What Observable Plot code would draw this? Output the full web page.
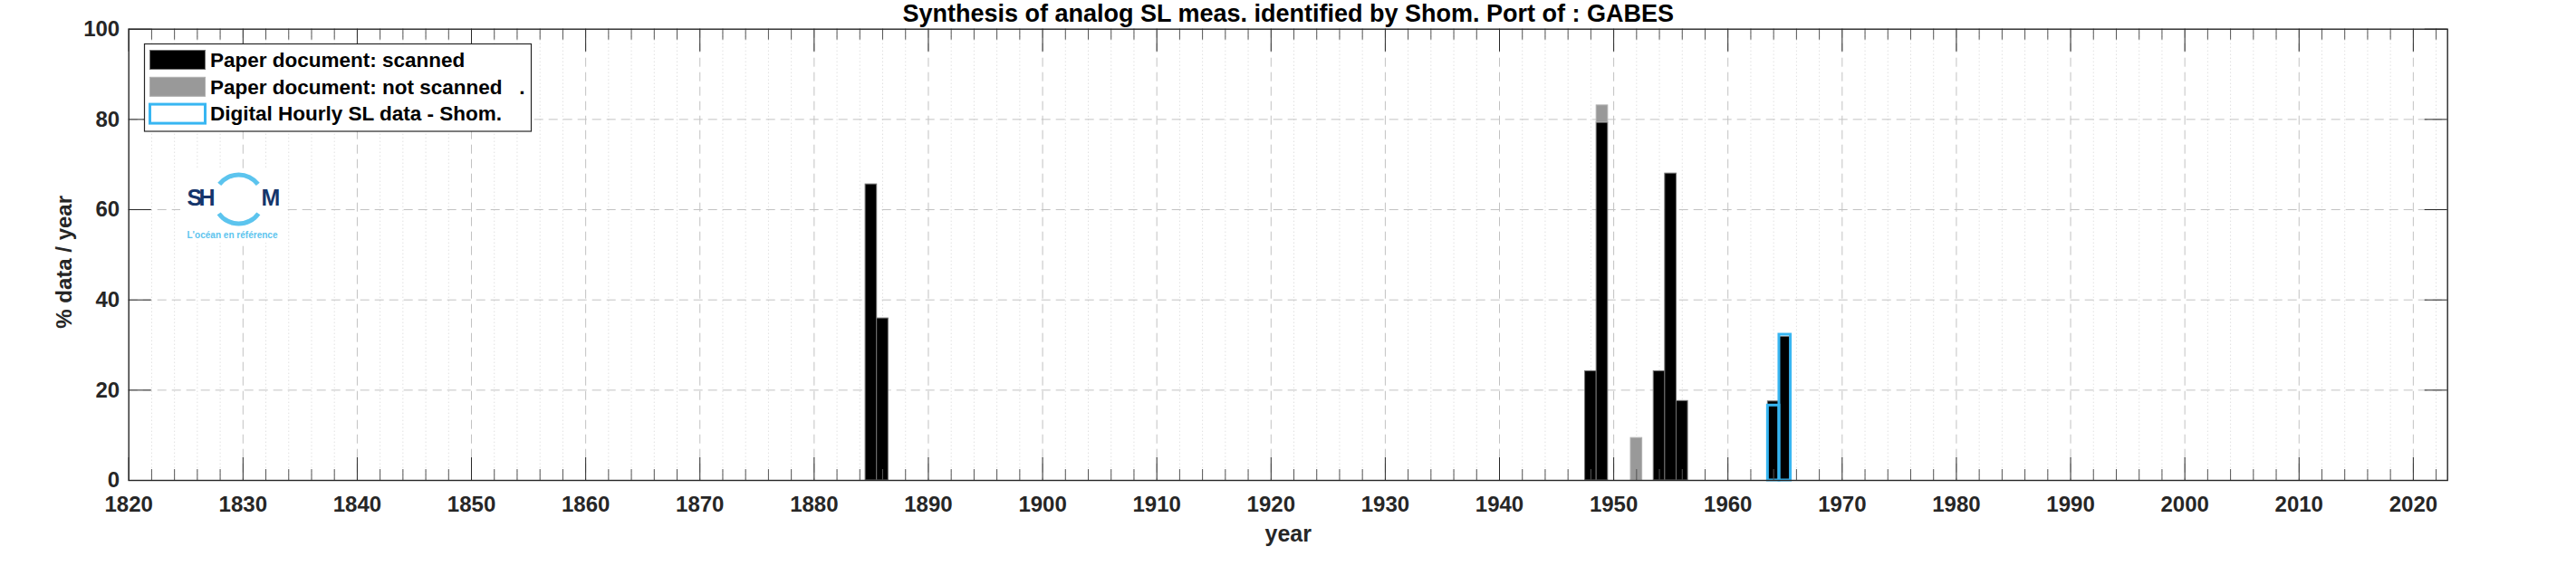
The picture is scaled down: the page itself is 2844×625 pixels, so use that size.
<!DOCTYPE html>
<html><head><meta charset="utf-8">
<script src="https://cdn.jsdelivr.net/npm/d3@7"></script>
<script src="https://cdn.jsdelivr.net/npm/@observablehq/plot@0.6"></script>
<style>
html,body{margin:0;padding:0;background:#fff;}
#chart svg{display:block}
</style></head><body><div id="chart"></div>
<script>
// ---- text ----
const title = "Synthesis of analog SL meas. identified by Shom. Port of : GABES";
const xLabel = "year";
const yLabel = "% data / year";
const legendLabels = ["Paper document: scanned", "Paper document: not scanned   .", "Digital Hourly SL data - Shom."];
const logoLetters = ["SH", "M"];
const logoTagline = "L'océan en référence";

// ---- ticks ----
const xTicks = [1820, 1830, 1840, 1850, 1860, 1870, 1880, 1890, 1900, 1910, 1920, 1930, 1940, 1950, 1960, 1970, 1980, 1990, 2000, 2010, 2020];
const xMinorTicks = d3.range(1822, 2023, 2).filter(d => d % 10 !== 0);
const yTicks = [0, 20, 40, 60, 80, 100];
const yGrid = [20, 40, 60, 80];

// ---- data (% of data per year) ----
const scannedYears = [1885, 1886, 1948, 1949, 1954, 1955, 1956, 1964, 1965];
const scannedPct   = [65.6, 35.9, 24.2, 79.3, 24.2, 68.0, 17.6, 17.5, 31.8];
const notScannedYears = [1949, 1952];
const notScannedPct   = [3.8, 9.4];
const digitalYears = [1964, 1965];
const digitalPct   = [16.6, 32.3];

// ---- tables built from arrays ----
const scannedRows = scannedYears.map((year, i) => ({year, base: 0, top: scannedPct[i]}));
const notScannedRows = notScannedYears.map((year, i) => {
  const j = scannedYears.indexOf(year);
  const base = j >= 0 ? scannedPct[j] : 0;
  return {year, base, top: base + notScannedPct[i]};
});
const digitalRows = digitalYears.map((year, i) => ({year, top: digitalPct[i]}));

// ---- layout ----
const W = 2844, H = 625;
const mL = 141.7, mR = 142.3, mT = 31.7, mB = 95;
const plotW = W - mL - mR, plotH = H - mT - mB;
const majorLen = 25, minorLen = 12;
const FONT = "'Liberation Sans', Arial, Helvetica, sans-serif";
const INK = "#262626";
const BLUE = "#38b6f2";

const chart = Plot.plot({
  width: W, height: H,
  marginLeft: mL, marginRight: mR, marginTop: mT, marginBottom: mB,
  style: {fontFamily: FONT, fontWeight: "bold", background: "#fff", overflow: "visible"},
  x: {domain: [1820, 2023]},
  y: {domain: [0, 100]},
  marks: [
    // grid
    Plot.ruleX(xMinorTicks, {x: d => d, stroke: "#d2d2d2", strokeDasharray: "1,3"}),
    Plot.ruleX(xTicks.filter(d => d > 1820), {x: d => d, stroke: "#c2c2c2", strokeDasharray: "10,6"}),
    Plot.ruleY(yGrid, {y: d => d, stroke: "#c2c2c2", strokeDasharray: "10,6"}),
    // bars
    Plot.rect(scannedRows, {x1: d => d.year - 0.5, x2: d => d.year + 0.5, y1: "base", y2: "top", fill: "#000", stroke: "#707070", strokeWidth: 1}),
    Plot.rect(notScannedRows, {x1: d => d.year - 0.5, x2: d => d.year + 0.5, y1: "base", y2: "top", fill: "#999999", stroke: "#b0b0b0", strokeWidth: 1}),
    Plot.rect(digitalRows, {x1: d => d.year - 0.5, x2: d => d.year + 0.5, y1: 0, y2: "top", fill: "none", stroke: BLUE, strokeWidth: 3}),
    // ticks (inside, MATLAB style)
    Plot.ruleX(xTicks, {x: d => d, insetTop: plotH - majorLen, stroke: INK}),
    Plot.ruleX(xMinorTicks, {x: d => d, insetTop: plotH - minorLen, stroke: "#555"}),
    Plot.ruleX(xTicks, {x: d => d, insetBottom: plotH - majorLen, stroke: INK}),
    Plot.ruleX(xMinorTicks, {x: d => d, insetBottom: plotH - minorLen, stroke: "#555"}),
    Plot.ruleY(yTicks, {y: d => d, insetRight: plotW - majorLen, stroke: INK}),
    Plot.ruleY(yTicks, {y: d => d, insetLeft: plotW - majorLen, stroke: INK}),
    Plot.frame({stroke: INK, strokeWidth: 1.4}),
    // axes
    Plot.axisX(xTicks, {tickSize: 0, tickPadding: 17, fontSize: 24, fill: INK, label: null, tickFormat: d => String(d)}),
    Plot.axisY(yTicks, {tickSize: 0, tickPadding: 10, fontSize: 24, fill: INK, label: null, tickFormat: d => String(d)}),
    // titles
    Plot.text([title], {text: d => d, frameAnchor: "top", dy: -8.5, lineAnchor: "bottom", fontSize: 27, fill: "#000"}),
    Plot.text([xLabel], {text: d => d, frameAnchor: "bottom", dy: 67, lineAnchor: "bottom", fontSize: 25, fill: INK}),
    Plot.text([yLabel], {text: d => d, frameAnchor: "left", dx: -71, dy: 8, rotate: -90, lineAnchor: "middle", textAnchor: "middle", fontSize: 24, fill: INK})
  ]
});
document.getElementById("chart").appendChild(chart);

// ---- legend & logo overlay ----
const svg = d3.select(chart);
const lg = svg.append("g").attr("font-family", FONT).attr("font-weight", "bold").attr("text-anchor", "start");
lg.append("rect").attr("x", 159.5).attr("y", 48.5).attr("width", 427).attr("height", 96.5)
  .attr("fill", "#fff").attr("stroke", INK).attr("stroke-width", 1.2);
const sw = [
  {fill: "#000", stroke: "#707070", sw: 1},
  {fill: "#999999", stroke: "#b0b0b0", sw: 1},
  {fill: "#fff", stroke: BLUE, sw: 3}
];
legendLabels.forEach((label, i) => {
  const cy = 66 + i * 29.8;
  lg.append("rect").attr("x", 165.5).attr("y", cy - 10.5).attr("width", 61).attr("height", 21)
    .attr("fill", sw[i].fill).attr("stroke", sw[i].stroke).attr("stroke-width", sw[i].sw);
  lg.append("text").attr("x", 232).attr("y", cy).attr("dy", "0.35em").attr("text-anchor", "start")
    .attr("font-size", 22.5).attr("fill", "#000").style("white-space", "pre").text(label);
});

const logo = svg.append("g").attr("font-family", FONT).attr("text-anchor", "start");
logo.append("rect").attr("x", 199).attr("y", 187).attr("width", 113).attr("height", 81).attr("fill", "#fff");
const cx = 263.5, cy = 220;
const arc = d3.arc().innerRadius(24.5).outerRadius(29.5);
const NAVY = "#15356b", LBLUE = "#5cc4ee";
[[-52, 52], [126, 234]].forEach(([a0, a1]) => {
  logo.append("path").attr("transform", `translate(${cx},${cy})`)
    .attr("d", arc({startAngle: a0 * Math.PI / 180, endAngle: a1 * Math.PI / 180})).attr("fill", LBLUE);
});
logo.append("text").attr("x", 206.5).attr("y", 227).attr("font-size", 25).attr("font-weight", "bold")
  .attr("fill", NAVY).attr("textLength", 31).text(logoLetters[0]);
logo.append("text").attr("x", 288.5).attr("y", 227).attr("font-size", 25).attr("font-weight", "bold")
  .attr("fill", NAVY).text(logoLetters[1]);
logo.append("text").attr("x", 256.5).attr("y", 263).attr("text-anchor", "middle").attr("font-size", 10)
  .attr("fill", LBLUE).attr("textLength", 100).text(logoTagline);
</script>
</body></html>
